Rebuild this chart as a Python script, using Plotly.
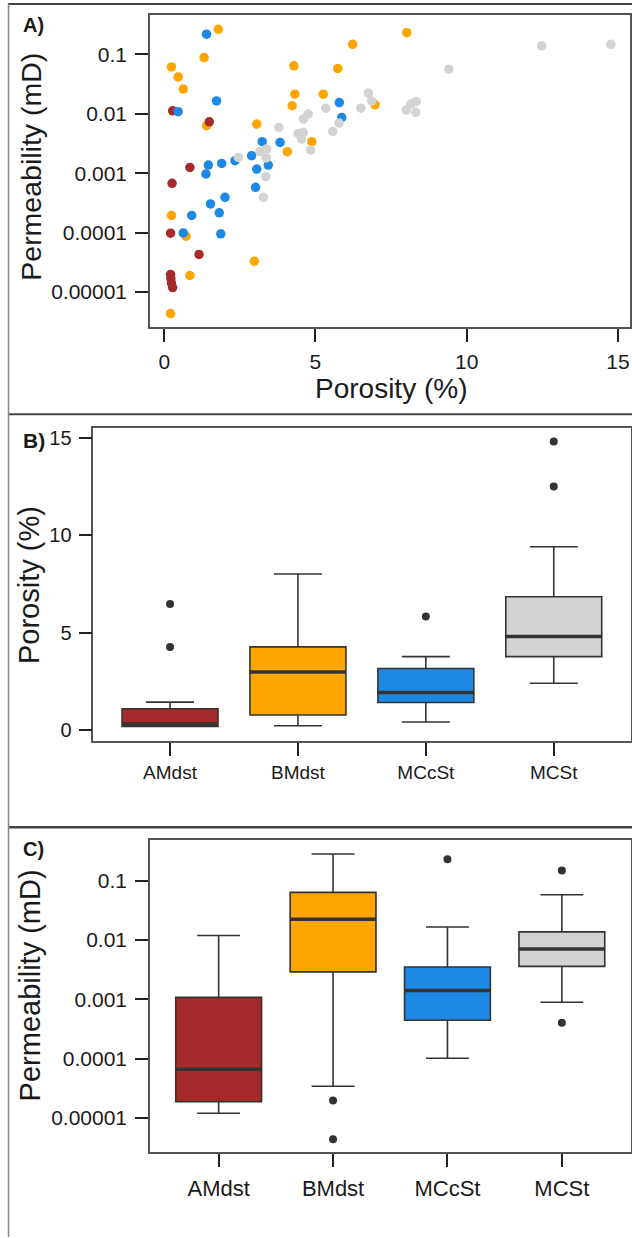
import plotly.graph_objects as go

W, H = 632, 1238

# ---------------- data: panel A (porosity %, permeability mD) ----------------
groups = ["AMdst", "BMdst", "MCcSt", "MCSt"]
colors = {"AMdst": "#A52A2A", "BMdst": "#FFA500", "MCcSt": "#1E88E5", "MCSt": "#D3D3D3"}

por_AMdst = [0.28, 1.49, 0.85, 0.26, 0.21, 1.15, 0.21, 0.22, 0.24, 0.28]
perm_AMdst = [0.0112, 0.0073, 0.00125, 0.000675, 9.8e-5, 4.3e-5, 1.98e-5, 1.68e-5, 1.42e-5, 1.19e-5]

por_BMdst = [1.79, 1.32, 0.24, 0.46, 0.63, 1.40, 4.29, 4.32, 4.23, 3.06, 4.07,
             4.88, 8.02, 6.23, 5.74, 5.26, 6.97, 0.24, 0.72, 0.85, 0.21, 2.98]
perm_BMdst = [0.263, 0.0877, 0.0612, 0.0416, 0.0259, 0.00627, 0.0637, 0.0213, 0.0136,
              0.00668, 0.0023, 0.00338, 0.23, 0.147, 0.0573, 0.0213, 0.0141, 0.000194,
              8.7e-5, 1.9e-5, 4.35e-6, 3.3e-5]

por_MCcSt = [1.40, 1.73, 0.46, 3.24, 3.83, 2.89, 2.34, 1.90, 1.46, 1.38, 3.06,
             3.44, 3.02, 2.01, 1.53, 5.79, 5.87, 1.82, 0.91, 0.63, 1.87]
perm_MCcSt = [0.217, 0.0164, 0.0108, 0.00338, 0.00329, 0.00197, 0.00162, 0.00146,
              0.00137, 0.00097, 0.00117, 0.00137, 0.000578, 0.000393, 0.000304,
              0.0154, 0.00863, 0.000215, 0.000194, 9.9e-5, 9.55e-5]

por_MCSt = [2.45, 3.17, 3.39, 3.37, 3.36, 3.28, 3.79, 4.60, 4.76, 4.43, 4.60, 4.54,
            4.84, 5.34, 5.57, 5.78, 6.75, 6.86, 6.50, 8.00, 8.16, 8.33, 8.32, 9.41,
            12.48, 14.77]
perm_MCSt = [0.00184, 0.00232, 0.00255, 0.0018, 0.000873, 0.000393, 0.00586, 0.00813,
             0.00984, 0.00466, 0.00484, 0.00375, 0.00245, 0.0124, 0.00502, 0.00695,
             0.0222, 0.0164, 0.0124, 0.0115, 0.0145, 0.0159, 0.0105, 0.056, 0.138, 0.147]

# ---------------- data: panel B box statistics (porosity %) ----------------
por_q1 = [0.21, 0.79, 1.43, 3.78]
por_med = [0.33, 3.00, 1.94, 4.81]
por_q3 = [1.11, 4.28, 3.17, 6.85]
por_lo = [0.21, 0.24, 0.43, 2.42]
por_hi = [1.45, 8.01, 3.78, 9.41]
por_out_grp = ["AMdst", "AMdst", "MCcSt", "MCSt", "MCSt"]
por_out_val = [6.48, 4.28, 5.83, 14.8, 12.5]

# ---------------- data: panel C box statistics (permeability mD) ----------------
perm_q1 = [1.88e-5, 0.0029, 0.000445, 0.0036]
perm_med = [6.65e-5, 0.0223, 0.00141, 0.00708]
perm_q3 = [0.00108, 0.0636, 0.00352, 0.0137]
perm_lo = [1.2e-5, 3.44e-5, 0.000102, 0.000893]
perm_hi = [0.0119, 0.282, 0.0166, 0.058]
perm_out_grp = ["BMdst", "BMdst", "MCcSt", "MCSt", "MCSt"]
perm_out_val = [1.98e-5, 4.37e-6, 0.229, 0.149, 0.000402]

perm_ticks = [0.1, 0.01, 0.001, 0.0001, 0.00001]
perm_ticktext = ["0.1", "0.01", "0.001", "0.0001", "0.00001"]

# ---------------- helpers ----------------
def px(x):
    return x / W

def py(y):
    return 1 - y / H

FONT = "Liberation Sans, Arial, Helvetica, sans-serif"
TXT = "#1a1a1a"
BOXW = 0.75
pos = {g: i + 1 for i, g in enumerate(groups)}

fig = go.Figure()

# ---------------- panel A scatter ----------------
scatter_data = {
    "BMdst": (por_BMdst, perm_BMdst),
    "AMdst": (por_AMdst, perm_AMdst),
    "MCcSt": (por_MCcSt, perm_MCcSt),
    "MCSt": (por_MCSt, perm_MCSt),
}
for g in ["BMdst", "AMdst", "MCcSt", "MCSt"]:
    xs, ys = scatter_data[g]
    fig.add_trace(go.Scatter(x=xs, y=ys, mode="markers", xaxis="x", yaxis="y",
                             marker=dict(size=9.5, color=colors[g], line=dict(width=0)),
                             showlegend=False, hoverinfo="skip"))

# ---------------- panel B & C boxes ----------------
def add_boxes(xa, ya, q1, med, q3, lo, hi, out_grp, out_val):
    for i, g in enumerate(groups):
        fig.add_trace(go.Box(x=[pos[g]], q1=[q1[i]], median=[med[i]], q3=[q3[i]],
                             lowerfence=[lo[i]], upperfence=[hi[i]], width=BOXW,
                             fillcolor=colors[g], line=dict(color="#333333", width=1.6),
                             boxpoints=False, xaxis=xa, yaxis=ya, showlegend=False,
                             hoverinfo="skip"))
        fig.add_trace(go.Scatter(x=[pos[g] - BOXW / 2, pos[g] + BOXW / 2], y=[med[i], med[i]],
                                 mode="lines", line=dict(color="#333333", width=3.5),
                                 xaxis=xa, yaxis=ya, showlegend=False, hoverinfo="skip"))
    fig.add_trace(go.Scatter(x=[pos[g] for g in out_grp], y=out_val, mode="markers",
                             marker=dict(size=8, color="#333333"), xaxis=xa, yaxis=ya,
                             showlegend=False, hoverinfo="skip"))

add_boxes("x2", "y2", por_q1, por_med, por_q3, por_lo, por_hi, por_out_grp, por_out_val)
add_boxes("x3", "y3", perm_q1, perm_med, perm_q3, perm_lo, perm_hi, perm_out_grp, perm_out_val)

axis_common = dict(showgrid=False, zeroline=False, showline=True, mirror=True,
                   linecolor="#555555", linewidth=1.5, ticks="outside", ticklen=13,
                   tickwidth=2, tickcolor="#222222")

fig.update_layout(
    width=W, height=H, margin=dict(l=0, r=0, t=0, b=0),
    paper_bgcolor="white", plot_bgcolor="white", showlegend=False,
    font=dict(family=FONT, color=TXT),
    xaxis=dict(domain=[px(150), px(630)], range=[-0.47, 15.4], anchor="y",
               tickvals=[0, 5, 10, 15], tickfont=dict(size=21, color=TXT),
               ticklabelstandoff=2, **axis_common),
    yaxis=dict(domain=[py(326.7), py(14)], type="log", range=[-5.59, -0.34], anchor="x",
               tickvals=perm_ticks, ticktext=perm_ticktext, tickfont=dict(size=21, color=TXT),
               ticklabelstandoff=4, **axis_common),
    xaxis2=dict(domain=[px(93.3), px(630.5)], range=[0.4, 4.6], anchor="y2",
                tickvals=[1, 2, 3, 4], ticktext=groups, tickfont=dict(size=19, color=TXT),
                ticklabelstandoff=1, **axis_common),
    yaxis2=dict(domain=[py(741), py(427.3)], range=[-0.53, 15.51], anchor="x2",
                tickvals=[0, 5, 10, 15], tickfont=dict(size=20, color=TXT),
                ticklabelstandoff=3, **axis_common),
    xaxis3=dict(domain=[px(150), px(630.5)], range=[0.4, 4.6], anchor="y3",
                tickvals=[1, 2, 3, 4], ticktext=groups, tickfont=dict(size=22, color=TXT),
                ticklabelstandoff=2, **axis_common),
    yaxis3=dict(domain=[py(1153.3), py(840.7)], type="log", range=[-5.58, -0.32], anchor="x3",
                tickvals=perm_ticks, ticktext=perm_ticktext, tickfont=dict(size=21, color=TXT),
                ticklabelstandoff=4, **axis_common),
)

annotations = [
    dict(text="<b>A)</b>", x=px(21), y=py(24), xanchor="left", yanchor="middle", font=dict(size=20)),
    dict(text="<b>B)</b>", x=px(21), y=py(440), xanchor="left", yanchor="middle", font=dict(size=21)),
    dict(text="<b>C)</b>", x=px(21), y=py(849), xanchor="left", yanchor="middle", font=dict(size=20)),
    dict(text="Porosity (%)", x=px(391), y=py(388), xanchor="center", yanchor="middle", font=dict(size=28)),
    dict(text="Permeability (mD)", x=px(31), y=py(166), textangle=-90, xanchor="center", yanchor="middle", font=dict(size=28.5)),
    dict(text="Porosity (%)", x=px(29), y=py(585), textangle=-90, xanchor="center", yanchor="middle", font=dict(size=29)),
    dict(text="Permeability (mD)", x=px(30), y=py(986), textangle=-90, xanchor="center", yanchor="middle", font=dict(size=29)),
]
for a in annotations:
    a.update(xref="paper", yref="paper", showarrow=False)
    a["font"].update(family=FONT, color=TXT)
fig.update_layout(annotations=annotations)

# panel frames
frame = dict(type="line", xref="paper", yref="paper", line=dict(color="#444444", width=2))
fig.update_layout(shapes=[
    dict(frame, x0=px(8), x1=1, y0=py(3), y1=py(3)),
    dict(frame, x0=px(8), x1=1, y0=py(414), y1=py(414)),
    dict(frame, x0=px(8), x1=1, y0=py(827.5), y1=py(827.5), line=dict(color="#444444", width=2.5)),
    dict(frame, x0=px(8.5), x1=px(8.5), y0=py(3), y1=0, line=dict(color="#888888", width=1.5)),
])

fig.write_html("out.html", config={"displayModeBar": False},
               post_script="document.body.style.margin='0';document.body.style.overflow='hidden';")
